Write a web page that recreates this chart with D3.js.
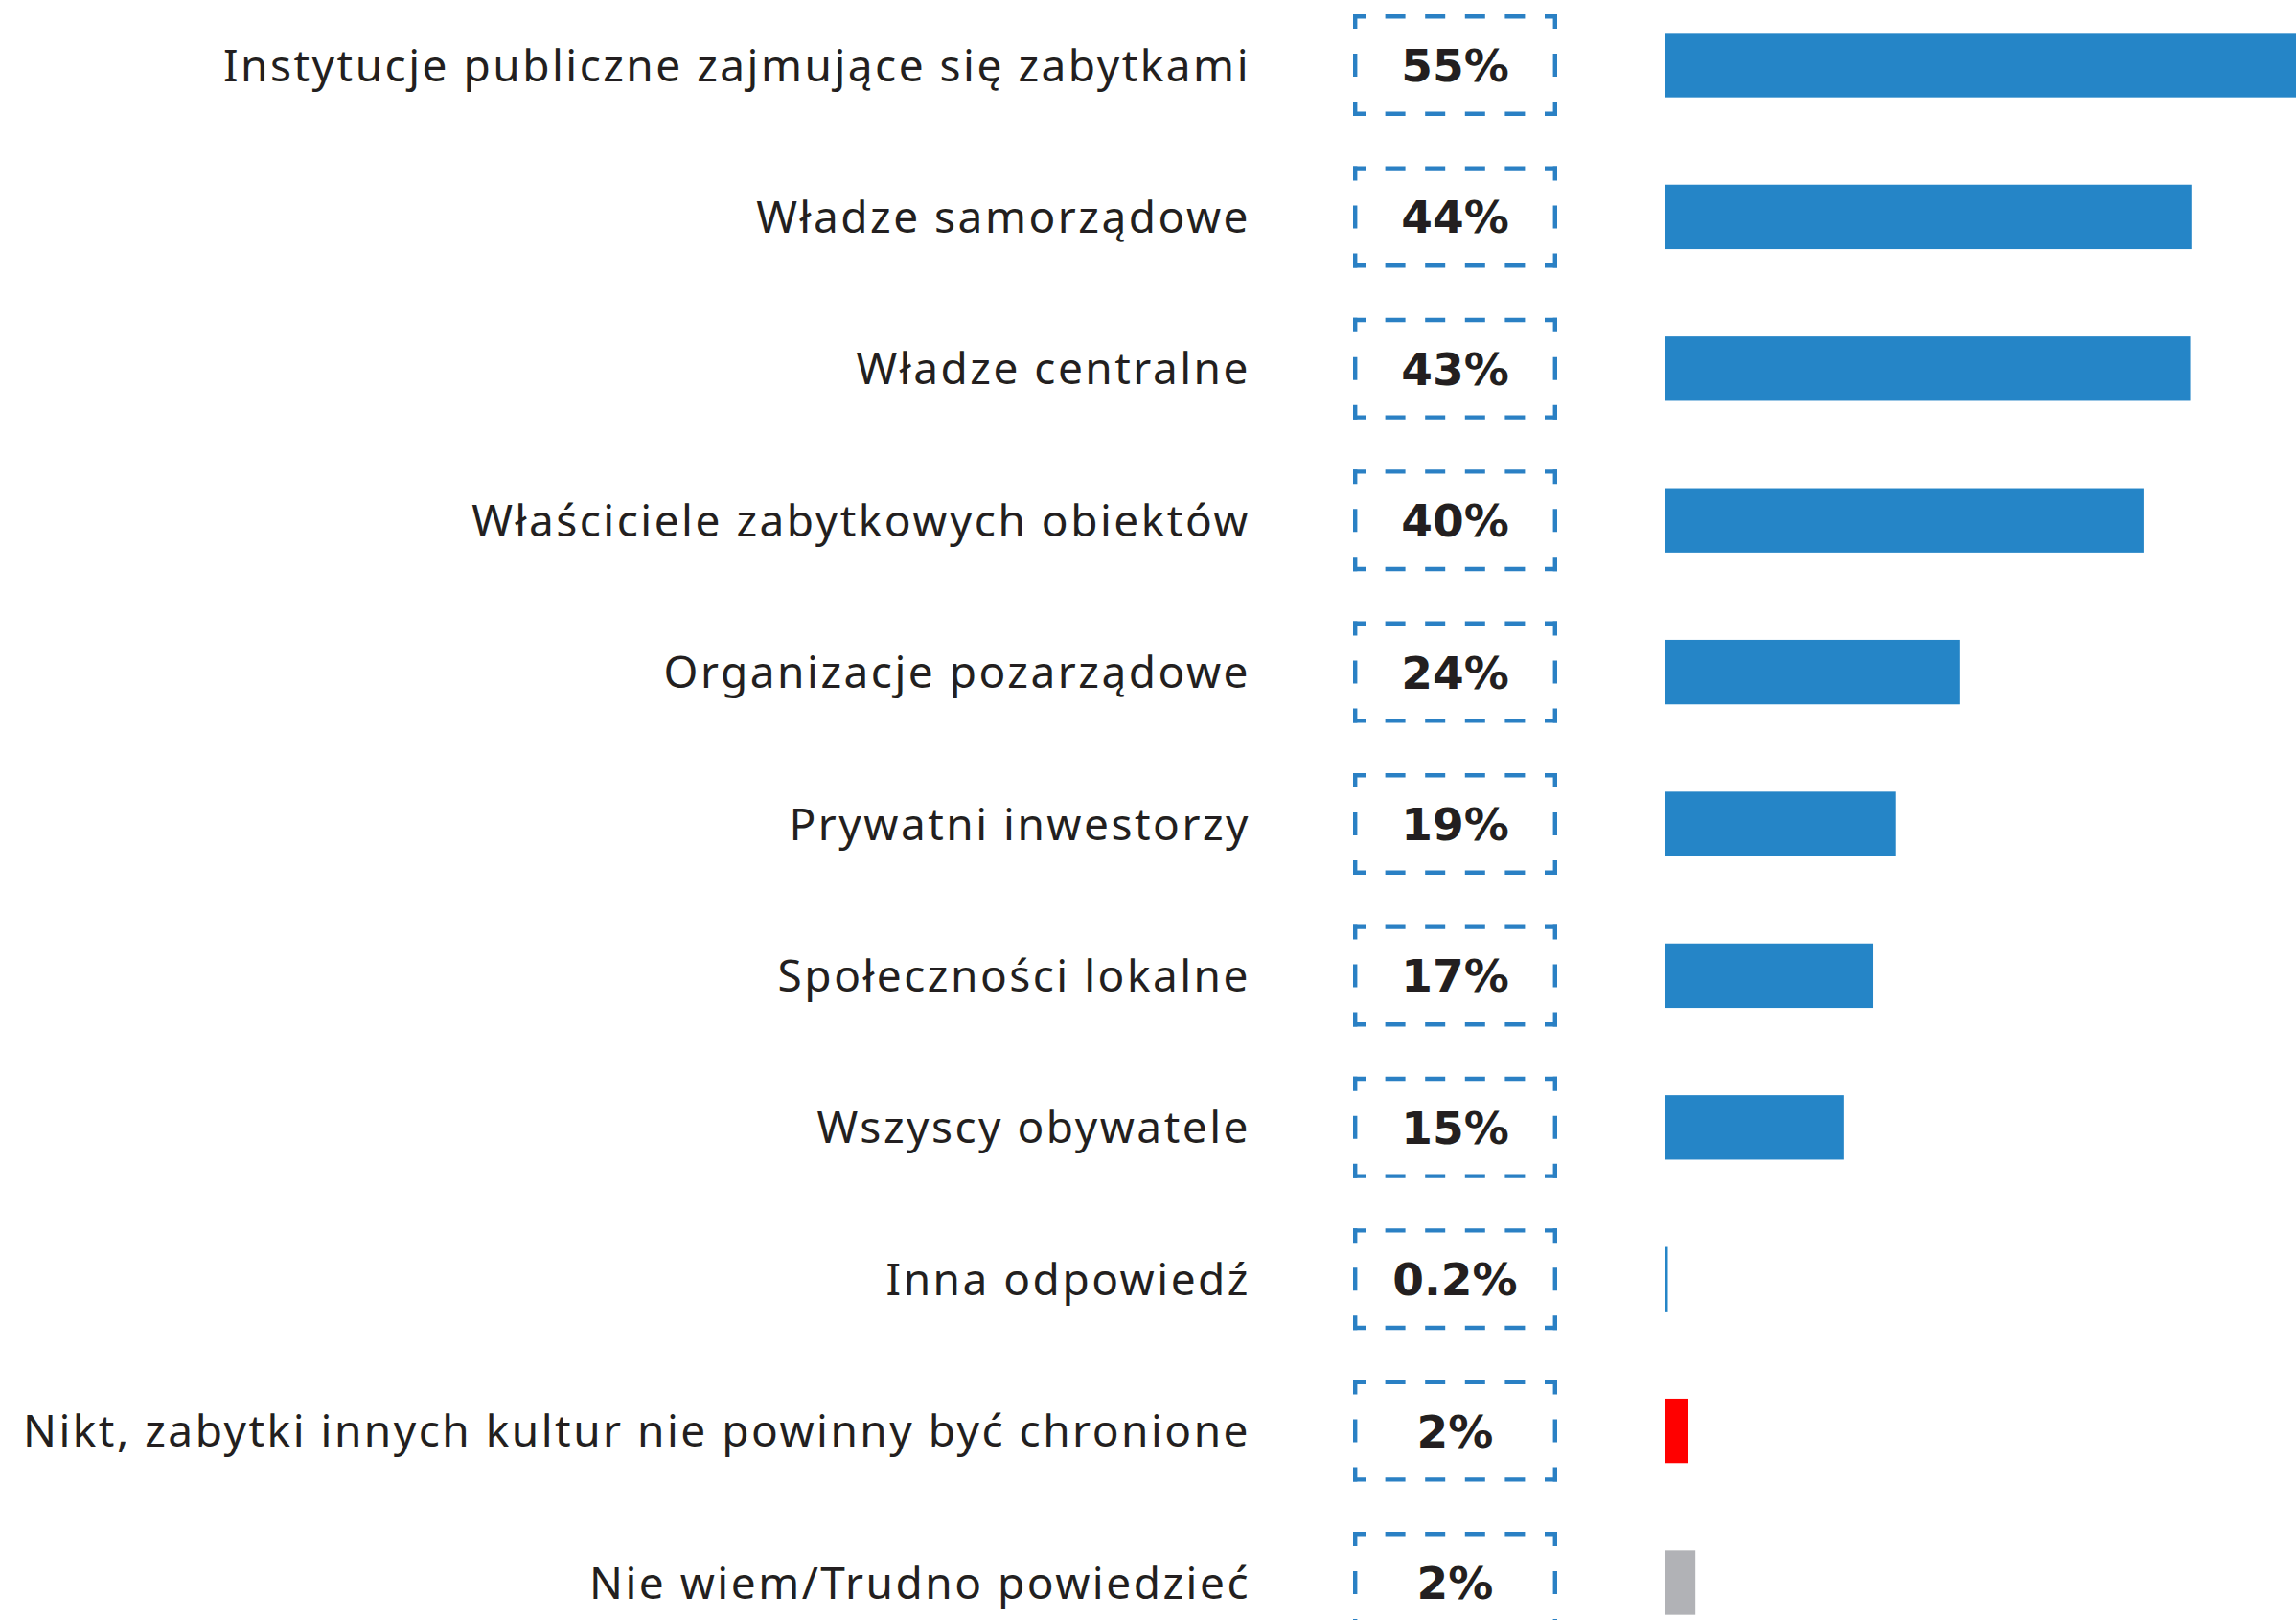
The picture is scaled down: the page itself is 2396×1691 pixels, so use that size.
<!DOCTYPE html>
<html>
<head>
<meta charset="utf-8">
<script src="https://cdn.jsdelivr.net/npm/d3@7/dist/d3.min.js"></script>
<style>
  html, body { margin: 0; padding: 0; background: #fff; }
  svg { display: block; }
</style>
</head>
<body>
<div id="chart"></div>
<script>
// categories, top to bottom
var categories = [
  "Instytucje publiczne zajmujące się zabytkami",
  "Władze samorządowe",
  "Władze centralne",
  "Właściciele zabytkowych obiektów",
  "Organizacje pozarządowe",
  "Prywatni inwestorzy",
  "Społeczności lokalne",
  "Wszyscy obywatele",
  "Inna odpowiedź",
  "Nikt, zabytki innych kultur nie powinny być chronione",
  "Nie wiem/Trudno powiedzieć"
];

// bar lengths (%)
var shares = [55, 44, 43.9, 40, 24.6, 19.3, 17.4, 14.9, 0.2, 1.9, 2.5];

// printed value labels
var shareLabels = ["55%", "44%", "43%", "40%", "24%", "19%", "17%", "15%", "0.2%", "2%", "2%"];

// bar colour group: main answers, "nobody", "don't know"
var groups = ["main", "main", "main", "main", "main", "main", "main", "main", "main", "nobody", "unknown"];

var width = 2396, height = 1691;
var blue = "#2585c7", ink = "#231f20";

var colour = d3.scaleOrdinal()
  .domain(["main", "nobody", "unknown"])
  .range([blue, "#ff0000", "#b1b2b6"]);

var svg = d3.select("#chart").append("svg")
  .attr("width", width)
  .attr("height", height);

svg.append("rect")
  .attr("width", width)
  .attr("height", height)
  .style("fill", "#fff");

// one band per answer
var y = d3.scaleBand()
  .domain(categories)
  .range([-11.2, 1731.2])
  .paddingInner(0.575)
  .paddingOuter(0.2875);

var x = d3.scaleLinear()
  .domain([0, 55])
  .range([1738, 2424]);

var rows = categories.map(function(c, i) {
  return { cat: c, value: shares[i], label: shareLabels[i], group: groups[i] };
});

var row = svg.selectAll("g.row")
  .data(rows)
  .enter().append("g")
  .attr("class", "row")
  .attr("transform", function(d) { return "translate(0," + (y(d.cat) + y.bandwidth() / 2) + ")"; });

// category text, right aligned
row.append("text")
  .attr("x", 1305)
  .attr("dy", "0.36em")
  .attr("text-anchor", "end")
  .style("font-family", "'Noto Sans', sans-serif")
  .style("font-size", "46px")
  .style("letter-spacing", "2.5px")
  .style("fill", ink)
  .text(function(d) { return d.cat; });

// dashed value boxes
var boxL = 1412, boxW = 213, boxH = 106, sw = 4.4;

function dashes(len, corner, dash, n) {
  var gap = (len - 2 * corner - n * dash) / (n + 1);
  var a = [corner];
  for (var k = 0; k < n; k++) a.push(gap, dash);
  a.push(gap, corner);
  return a.join(",");
}

var hDash = dashes(boxW, 13, 21, 4),
    vDash = dashes(boxH, 15, 24, 1);

var box = row.append("g")
  .style("stroke", "#2a80c4")
  .style("stroke-width", sw)
  .style("fill", "none");

box.append("line") // top
  .attr("x1", boxL).attr("x2", boxL + boxW)
  .attr("y1", -boxH / 2 + sw / 2).attr("y2", -boxH / 2 + sw / 2)
  .style("stroke-dasharray", hDash);
box.append("line") // bottom
  .attr("x1", boxL).attr("x2", boxL + boxW)
  .attr("y1", boxH / 2 - sw / 2).attr("y2", boxH / 2 - sw / 2)
  .style("stroke-dasharray", hDash);
box.append("line") // left
  .attr("x1", boxL + sw / 2).attr("x2", boxL + sw / 2)
  .attr("y1", -boxH / 2).attr("y2", boxH / 2)
  .style("stroke-dasharray", vDash);
box.append("line") // right
  .attr("x1", boxL + boxW - sw / 2).attr("x2", boxL + boxW - sw / 2)
  .attr("y1", -boxH / 2).attr("y2", boxH / 2)
  .style("stroke-dasharray", vDash);

row.append("text")
  .attr("x", boxL + boxW / 2)
  .attr("dy", "0.36em")
  .attr("text-anchor", "middle")
  .style("font-family", "'DejaVu Sans', sans-serif")
  .style("font-weight", "bold")
  .style("font-size", "47px")
  .style("fill", ink)
  .text(function(d) { return d.label; });

// bars
row.append("rect")
  .attr("x", x(0))
  .attr("y", -y.bandwidth() / 2)
  .attr("width", function(d) { return x(d.value) - x(0); })
  .attr("height", y.bandwidth())
  .style("fill", function(d) { return colour(d.group); });
</script>
</body>
</html>
